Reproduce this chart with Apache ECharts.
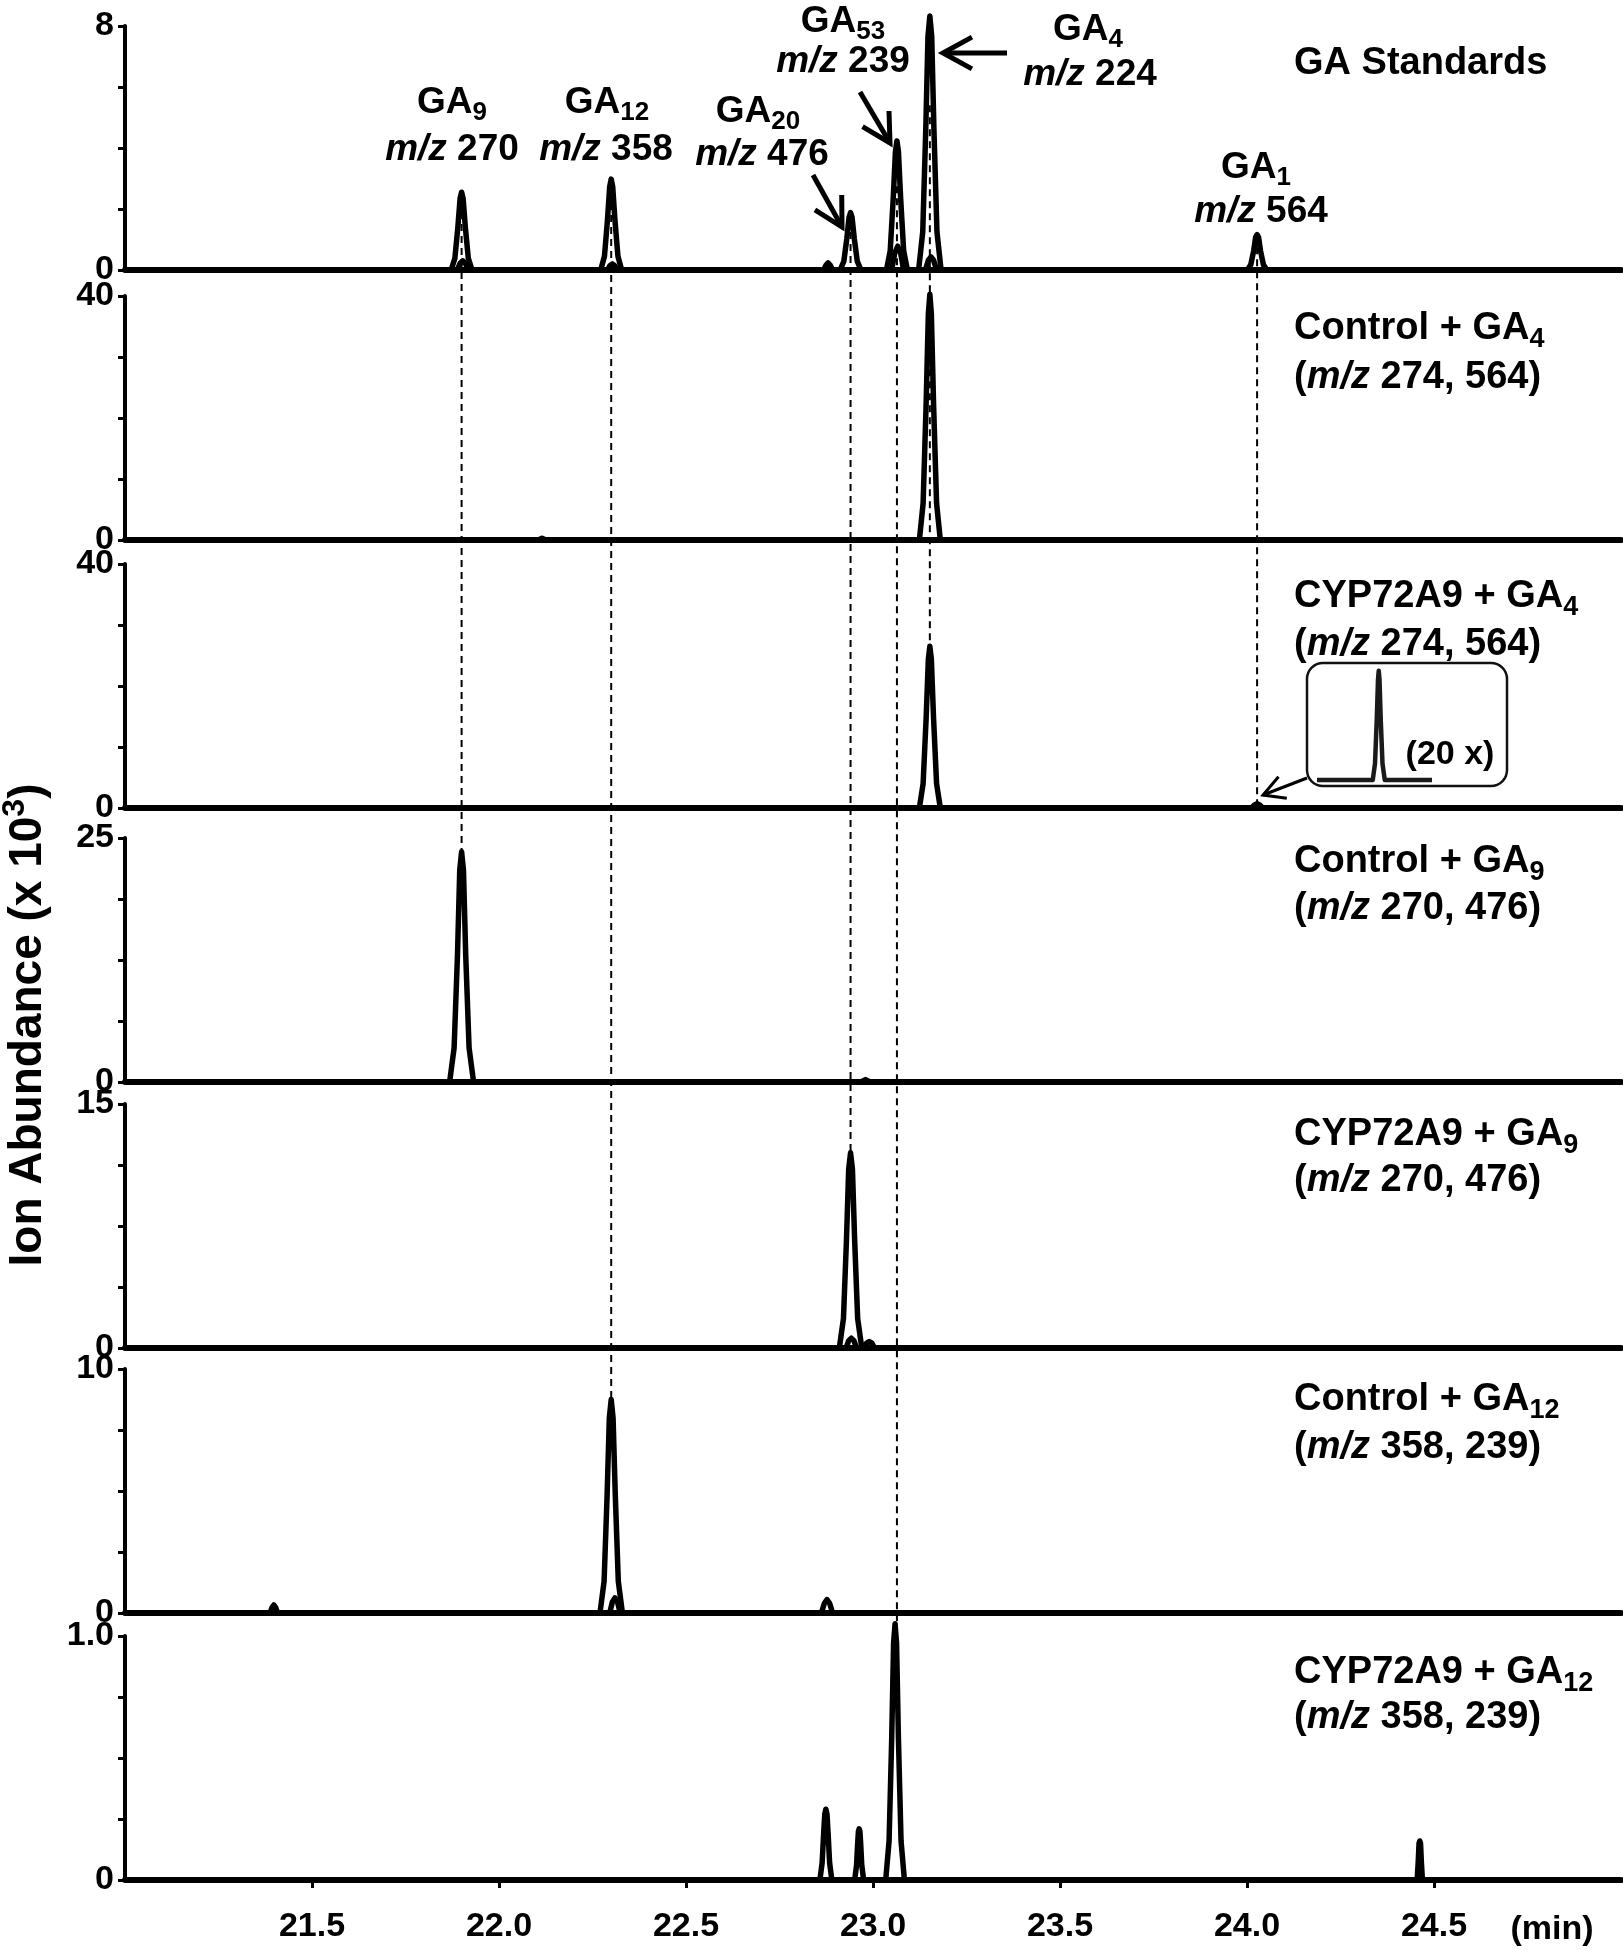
<!DOCTYPE html>
<html>
<head>
<meta charset="utf-8">
<title>GA chromatograms</title>
<script src="https://cdn.jsdelivr.net/npm/echarts@6/dist/echarts.min.js"></script>
<style>
  html, body { margin: 0; padding: 0; background: #fff; }
  #chart { width: 1623px; height: 1950px; }
</style>
</head>
<body>
<div id="chart"></div>
<script>
const FONT = 'Arial, "Liberation Sans", Helvetica, sans-serif';

// retention time axis (min)
const timeMin = 21.0;
const timeMax = 25.0;
const timeTicks = [21.5, 22.0, 22.5, 23.0, 23.5, 24.0, 24.5];

// y axis tops, ion abundance x 10^3
const yMax = [8, 40, 40, 25, 15, 10, 1.0];
const yMaxLabels = ['8', '40', '40', '25', '15', '10', '1.0'];

// panel titles (rich text tokens)
const panelTitles = [
  '{n|GA Standards}',
  '{n|Control + GA}{s|4}',
  '{n|CYP72A9 + GA}{s|4}',
  '{n|Control + GA}{s|9}',
  '{n|CYP72A9 + GA}{s|9}',
  '{n|Control + GA}{s|12}',
  '{n|CYP72A9 + GA}{s|12}'
];
const panelIons = [
  '',
  '{n|(}{i|m/z}{n| 274, 564)}',
  '{n|(}{i|m/z}{n| 274, 564)}',
  '{n|(}{i|m/z}{n| 270, 476)}',
  '{n|(}{i|m/z}{n| 270, 476)}',
  '{n|(}{i|m/z}{n| 358, 239)}',
  '{n|(}{i|m/z}{n| 358, 239)}'
];

// traces [time, abundance]
const stdMain = [
  [21.872, 0], [21.882, 0.38], [21.890, 1.40], [21.896, 2.35], [21.900, 2.55], [21.904, 2.35], [21.910, 1.40], [21.918, 0.38], [21.928, 0],
  [22.272, 0], [22.282, 0.45], [22.290, 1.64], [22.296, 2.74], [22.300, 2.98], [22.304, 2.74], [22.310, 1.64], [22.318, 0.45], [22.328, 0],
  [22.868, 0], [22.874, 0.15], [22.880, 0.23], [22.886, 0.15], [22.892, 0],
  [22.912, 0], [22.922, 0.28], [22.930, 1.03], [22.936, 1.73], [22.940, 1.88], [22.944, 1.73], [22.950, 1.03], [22.958, 0.28], [22.968, 0],
  [23.036, 0], [23.046, 0.63], [23.054, 2.33], [23.060, 3.89], [23.064, 4.23], [23.068, 3.89], [23.074, 2.33], [23.082, 0.63], [23.092, 0],
  [23.122, 0], [23.133, 1.25], [23.141, 4.58], [23.147, 7.66], [23.152, 8.33], [23.157, 7.66], [23.163, 4.58], [23.171, 1.25], [23.182, 0],
  [24.001, 0], [24.010, 0.17], [24.018, 0.64], [24.023, 1.07], [24.027, 1.16], [24.031, 1.07], [24.036, 0.64], [24.044, 0.17], [24.053, 0]
];
const stdMinor = [
  [21.888, 0], [21.896, 0.22], [21.903, 0.30], [21.910, 0.22], [21.918, 0],
  [22.290, 0], [22.297, 0.15], [22.303, 0.20], [22.309, 0.15], [22.316, 0],
  [23.050, 0], [23.058, 0.55], [23.066, 0.78], [23.074, 0.55], [23.082, 0],
  [23.140, 0], [23.148, 0.32], [23.155, 0.43], [23.162, 0.32], [23.170, 0]
];
const ctlGa4 = [
  [22.105, 0], [22.115, 0.3], [22.125, 0],
  [23.124, 0], [23.134, 6.0], [23.142, 22.2], [23.148, 37.1], [23.152, 40.3], [23.156, 37.1], [23.162, 22.2], [23.170, 6.0], [23.180, 0]
];
const cypGa4 = [
  [23.124, 0], [23.134, 4.0], [23.142, 14.6], [23.148, 24.4], [23.152, 26.5], [23.156, 24.4], [23.162, 14.6], [23.170, 4.0], [23.180, 0],
  [24.012, 0], [24.020, 0.5], [24.027, 0.7], [24.034, 0.5], [24.042, 0]
];
// 20x blow-up of the GA1 region of cypGa4
const cypGa4Zoom = [
  [23.780, 0], [24.003, 0], [24.012, 2.1], [24.019, 7.7], [24.024, 12.9], [24.027, 14.0],
  [24.030, 12.9], [24.035, 7.7], [24.042, 2.1], [24.051, 0], [24.240, 0]
];
const ctlGa9 = [
  [21.868, 0], [21.880, 3.5], [21.889, 13.0], [21.895, 21.7], [21.900, 23.6], [21.905, 21.7], [21.911, 13.0], [21.920, 3.5], [21.932, 0],
  [22.968, 0], [22.980, 0.25], [22.992, 0]
];
const cypGa9 = [
  [22.910, 0], [22.921, 1.8], [22.929, 6.6], [22.935, 11.0], [22.940, 12.0], [22.945, 11.0], [22.951, 6.6], [22.959, 1.8], [22.970, 0]
];
const cypGa9Minor = [
  [22.928, 0], [22.935, 0.45], [22.942, 0.6], [22.949, 0.45], [22.956, 0],
  [22.976, 0], [22.983, 0.3], [22.990, 0.4], [22.997, 0.3], [23.004, 0]
];
const ctlGa12 = [
  [22.270, 0], [22.281, 1.3], [22.289, 4.8], [22.295, 8.0], [22.300, 8.75], [22.305, 8.0], [22.311, 4.8], [22.319, 1.3], [22.330, 0]
];
const ctlGa12Minor = [
  [21.388, 0], [21.393, 0.22], [21.398, 0.33], [21.403, 0.22], [21.408, 0],
  [22.296, 0], [22.303, 0.45], [22.310, 0.62], [22.317, 0.45], [22.324, 0],
  [22.862, 0], [22.870, 0.4], [22.877, 0.55], [22.884, 0.4], [22.892, 0]
];
const cypGa12 = [
  [22.858, 0], [22.864, 0.07], [22.868, 0.19], [22.871, 0.27], [22.874, 0.29], [22.877, 0.27], [22.880, 0.19], [22.884, 0.07], [22.890, 0],
  [22.951, 0], [22.956, 0.06], [22.959, 0.15], [22.961, 0.20], [22.963, 0.21], [22.965, 0.20], [22.967, 0.15], [22.970, 0.06], [22.975, 0],
  [23.034, 0], [23.043, 0.16], [23.050, 0.58], [23.055, 0.97], [23.059, 1.05], [23.063, 0.97], [23.068, 0.58], [23.075, 0.16], [23.084, 0],
  [24.455, 0], [24.458, 0.08], [24.460, 0.15], [24.462, 0.16], [24.464, 0.15], [24.466, 0.08], [24.469, 0]
];

// dashed guide lines: retention time, start value in standards panel, end panel and value
const refTimes = [21.900, 22.300, 22.940, 23.064, 23.152, 24.027];
const refStartValues = [1.9, 2.2, 1.25, 2.75, 5.4, 0.75];
const refEndPanels = [3, 5, 4, 6, 2, 2];
const refEndValues = [23.6, 8.75, 12.0, 1.05, 26.5, 0.7];

const panelTraces = [
  [stdMain, stdMinor], [ctlGa4], [cypGa4], [ctlGa9], [cypGa9, cypGa9Minor], [ctlGa12, ctlGa12Minor], [cypGa12]
];

// layout
const gridLeft = 125;
const gridWidth = 1496;
const gridHeight = 244;
const gridTops = [26, 296, 564, 838, 1104, 1369, 1636];
const titleY = [64, 329, 597, 862, 1135, 1400, 1673];
const ionY = [0, 378, 645, 909, 1181, 1448, 1718];

function richStyle(size) {
  const base = { fontFamily: FONT, fontWeight: 'bold', fontSize: size, lineHeight: size + 8, fill: '#000' };
  const small = Math.round(size * 0.7);
  const shift = Math.round(size * 0.55);
  return {
    n: base,
    i: Object.assign({}, base, { fontStyle: 'italic' }),
    s: { fontFamily: FONT, fontWeight: 'bold', fontSize: small, lineHeight: small + 4, fill: '#000', padding: [shift, 0, 0, 0] },
    u: { fontFamily: FONT, fontWeight: 'bold', fontSize: small, lineHeight: small + 4, fill: '#000', padding: [0, 0, shift, 0] }
  };
}

function textEl(x, y, text, size, align, rotation) {
  return {
    type: 'text', x: x, y: y, z: 10, silent: true, rotation: rotation || 0,
    style: {
      text: text, align: align || 'left', verticalAlign: 'middle',
      font: 'bold ' + size + 'px ' + FONT, fill: '#000', rich: richStyle(size)
    }
  };
}

function arrowEls(tail, tip, w, head) {
  const a = Math.atan2(tip[1] - tail[1], tip[0] - tail[0]);
  const h1 = [tip[0] - head * Math.cos(a - 0.5), tip[1] - head * Math.sin(a - 0.5)];
  const h2 = [tip[0] - head * Math.cos(a + 0.5), tip[1] - head * Math.sin(a + 0.5)];
  return [
    { type: 'line', z: 10, silent: true, shape: { x1: tail[0], y1: tail[1], x2: tip[0], y2: tip[1] },
      style: { stroke: '#000', lineWidth: w } },
    { type: 'polyline', z: 10, silent: true, shape: { points: [h1, tip, h2] },
      style: { stroke: '#000', fill: null, lineWidth: w, lineJoin: 'miter' } }
  ];
}

const grids = [];
const xAxes = [];
const yAxes = [];
const series = [];

gridTops.forEach((top, p) => {
  const last = p === gridTops.length - 1;
  grids.push({ left: gridLeft, width: gridWidth, top: top, height: gridHeight, outerBoundsMode: 'none' });
  xAxes.push({
    type: 'value', gridIndex: p, min: timeMin, max: timeMax,
    axisLine: { show: true, onZero: false, lineStyle: { color: '#000', width: 6 } },
    axisTick: { show: last, customValues: timeTicks, length: 8, lineStyle: { color: '#000', width: 3 } },
    axisLabel: {
      show: last, customValues: timeTicks, margin: 30, color: '#000',
      fontFamily: FONT, fontWeight: 'bold', fontSize: 34,
      formatter: function (v) { return v.toFixed(1); }
    },
    splitLine: { show: false }
  });
  yAxes.push({
    type: 'value', gridIndex: p, min: 0, max: yMax[p], interval: yMax[p] / 4,
    axisLine: { show: true, lineStyle: { color: '#000', width: 4 } },
    axisTick: { show: true, inside: false, length: 7, lineStyle: { color: '#000', width: 3 } },
    axisLabel: {
      showMinLabel: true, showMaxLabel: true, margin: 11, color: '#000',
      fontFamily: FONT, fontWeight: 'bold', fontSize: 34,
      formatter: function (v) {
        if (v === 0) return '0';
        if (Math.abs(v - yMax[p]) < 1e-9) return yMaxLabels[p];
        return '';
      }
    },
    splitLine: { show: false }
  });
  panelTraces[p].forEach((trace) => {
    series.push({
      type: 'line', xAxisIndex: p, yAxisIndex: p, data: trace,
      symbol: 'none', showSymbol: false, clip: false, silent: true, z: 3,
      lineStyle: { color: '#000', width: 5.5, join: 'round', cap: 'round' }
    });
  });
});

// inset (20 x) grid
grids.push({ left: 1317, width: 115, top: 663, height: 117, outerBoundsMode: 'none' });
xAxes.push({ type: 'value', gridIndex: 7, min: 23.78, max: 24.24, show: false });
yAxes.push({ type: 'value', gridIndex: 7, min: 0, max: 15, show: false });
series.push({
  type: 'line', xAxisIndex: 7, yAxisIndex: 7, data: cypGa4Zoom,
  symbol: 'none', showSymbol: false, clip: false, silent: true, z: 4,
  lineStyle: { color: '#1a1a1a', width: 4.5, join: 'round' }
});

const chart = echarts.init(document.getElementById('chart'), null, { renderer: 'canvas' });
chart.setOption({
  backgroundColor: '#fff',
  animation: false,
  grid: grids,
  xAxis: xAxes,
  yAxis: yAxes,
  series: series
});

const els = [];

// dashed guide lines through library scales
refTimes.forEach((t, k) => {
  const a = chart.convertToPixel({ gridIndex: 0 }, [t, refStartValues[k]]);
  const b = chart.convertToPixel({ gridIndex: refEndPanels[k] }, [t, refEndValues[k]]);
  els.push({
    type: 'line', z: 1, silent: true,
    shape: { x1: a[0], y1: a[1], x2: b[0], y2: b[1] },
    style: { stroke: '#000', lineWidth: 2, lineDash: [7, 5] }
  });
});

// panel titles
panelTitles.forEach((t, p) => {
  els.push(textEl(1294, titleY[p], t, 38, 'left'));
  if (panelIons[p]) els.push(textEl(1294, ionY[p], panelIons[p], 38, 'left'));
});

// peak annotations in the standards panel
els.push(textEl(452, 103, '{n|GA}{s|9}', 37, 'center'));
els.push(textEl(452, 150, '{i|m/z}{n| 270}', 37, 'center'));
els.push(textEl(607, 103, '{n|GA}{s|12}', 37, 'center'));
els.push(textEl(606, 150, '{i|m/z}{n| 358}', 37, 'center'));
els.push(textEl(758, 112, '{n|GA}{s|20}', 37, 'center'));
els.push(textEl(762, 155, '{i|m/z}{n| 476}', 37, 'center'));
els.push(textEl(843, 22, '{n|GA}{s|53}', 37, 'center'));
els.push(textEl(843, 62, '{i|m/z}{n| 239}', 37, 'center'));
els.push(textEl(1088, 30, '{n|GA}{s|4}', 37, 'center'));
els.push(textEl(1090, 75, '{i|m/z}{n| 224}', 37, 'center'));
els.push(textEl(1256, 168, '{n|GA}{s|1}', 37, 'center'));
els.push(textEl(1261, 212, '{i|m/z}{n| 564}', 37, 'center'));

arrowEls([813, 175], [842, 227], 5, 32).forEach((e) => els.push(e));
arrowEls([860, 92], [890, 143], 5, 32).forEach((e) => els.push(e));
arrowEls([1007, 53], [943, 53], 5, 33).forEach((e) => els.push(e));

// inset box and its arrow
els.push({
  type: 'rect', z: 2, silent: true,
  shape: { x: 1307, y: 663, width: 200, height: 123, r: 16 },
  style: { fill: '#fff', stroke: '#111', lineWidth: 2.5 }
});
els.push(textEl(1450, 755, '{n|(20 x)}', 34, 'center'));
arrowEls([1307, 778], [1263, 795], 3, 24).forEach((e) => els.push(e));

// axis titles
els.push(textEl(28, 1025, '{n|Ion Abundance (x 10}{u|3}{n|)}', 46, 'center', Math.PI / 2));
els.push(textEl(1552, 1930, '{n|(min)}', 34, 'center'));

chart.setOption({ graphic: { elements: els } });
</script>
</body>
</html>
